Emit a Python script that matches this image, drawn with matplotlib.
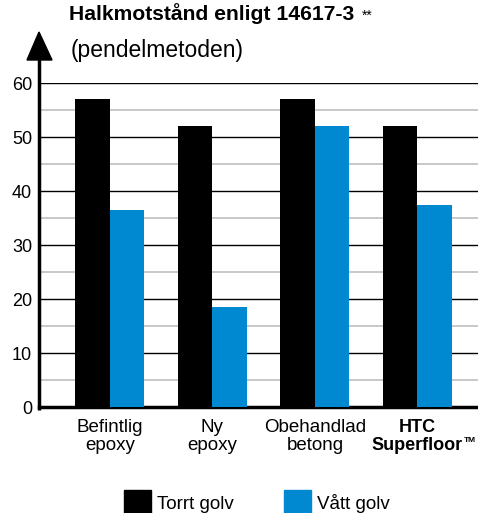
import matplotlib
matplotlib.use("Agg")
import matplotlib.pyplot as plt
from matplotlib.patches import Polygon, Rectangle
import numpy as np

plt.rcParams["font.family"] = ["Liberation Sans", "DejaVu Sans"]

categories = ["Befintlig\nepoxy", "Ny\nepoxy", "Obehandlad\nbetong", "HTC\nSuperfloor"]
torrt = [57, 52, 57, 52]
vatt = [36.5, 18.5, 52, 37.5]
series_names = ["Torrt golv", "Vått golv"]
BLACK = "#000000"
BLUE = "#0088d1"

W, H = 478, 513
fig = plt.figure(figsize=(W / 100, H / 100), dpi=100)
ax_left, ax_bottom, ax_top = 39, 407, 83
ax = fig.add_axes([ax_left / W, 1 - ax_bottom / H, 1 - ax_left / W, (ax_bottom - ax_top) / H])

x = np.arange(len(categories))
bw = 0.336
ax.bar(x - bw / 2, torrt, bw, color=BLACK, zorder=3)
ax.bar(x + bw / 2, vatt, bw, color=BLUE, zorder=3)

ax.set_xlim(-0.69, 3.59)
ax.set_ylim(0, 60)
for v in range(5, 60, 10):
    ax.axhline(v, color="#c4c4c4", lw=1.3, zorder=1)
for v in range(10, 61, 10):
    ax.axhline(v, color="black", lw=1.0, zorder=1)

for s in ["top", "right", "left"]:
    ax.spines[s].set_visible(False)
ax.spines["bottom"].set_linewidth(2.5)
ax.set_yticks(range(0, 61, 10))
ax.tick_params(axis="y", length=0, labelsize=13, pad=5)
ax.tick_params(axis="x", length=0, labelsize=13.5, pad=9)
ax.set_xticks(x)
ax.set_xticklabels(categories, linespacing=1.0)
htc = ax.get_xticklabels()[3]
htc.set_fontweight("bold")
htc.set_fontsize(13)

# small raised trademark sign right after "Superfloor"
fig.canvas.draw()
bb = htc.get_window_extent()
fig.text((bb.x1 + 1) / W, (bb.y0 + bb.height * 0.5) / H, "TM", fontsize=6,
         fontweight="bold", ha="left", va="top")

# y axis with arrow
ax.plot([0, 0], [-0.008, (ax_bottom - 58) / (ax_bottom - ax_top)], transform=ax.transAxes,
        color="black", lw=2.5, clip_on=False, solid_capstyle="butt")
tri = [(39 / W, 1 - 32 / H), (27 / W, 1 - 60 / H), (52 / W, 1 - 60 / H)]
fig.patches.append(Polygon(tri, closed=True, color="black", transform=fig.transFigure))

fig.text(69 / W, 1 - 20 / H, "Halkmotstånd enligt 14617-3", fontsize=15.2, fontweight="bold",
         va="baseline", ha="left")
fig.text(362 / W, 1 - 20 / H, "**", fontsize=10, va="baseline", ha="left")
fig.text(71 / W, 1 - 57 / H, "(pendelmetoden)", fontsize=16.5, va="baseline", ha="left")

# legend
for xpos, name, col in [(124, series_names[0], BLACK), (284, series_names[1], BLUE)]:
    fig.patches.append(Rectangle((xpos / W, 0), 27 / W, 23 / H, color=col, transform=fig.transFigure))
    fig.text((xpos + 33) / W, 1 - 509 / H, name, fontsize=13.5, va="baseline", ha="left")

fig.savefig("out.png", dpi=100)
